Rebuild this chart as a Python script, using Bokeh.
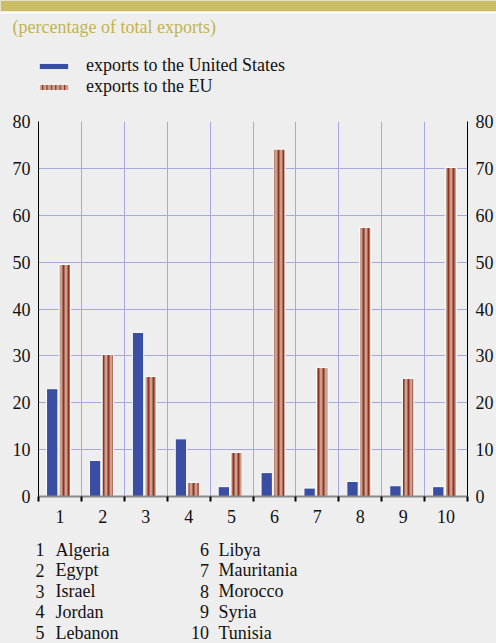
from bokeh.plotting import figure
from bokeh.layouts import column
from bokeh.models import (ColumnDataSource, FixedTicker, LinearAxis, Range1d, Label,
                          BoxAnnotation, Legend, LegendItem)
from bokeh.transform import dodge
from bokeh.embed import file_html
from bokeh.resources import INLINE

# ---------------- data ----------------
categories = ["1", "2", "3", "4", "5", "6", "7", "8", "9", "10"]
countries = ["Algeria", "Egypt", "Israel", "Jordan", "Lebanon",
             "Libya", "Mauritania", "Morocco", "Syria", "Tunisia"]
us_exports = [23.0, 7.7, 35.0, 12.3, 2.1, 5.1, 1.8, 3.2, 2.3, 2.1]
eu_exports = [49.5, 30.3, 25.6, 3.0, 9.4, 74.1, 27.5, 57.4, 25.2, 70.2]
y_ticks = [0, 10, 20, 30, 40, 50, 60, 70, 80]
series_labels = ["exports to the United States", "exports to the EU"]
subtitle = "(percentage of total exports)"

# ---------------- style ----------------
BG = "#eeeeee"
GOLD = "#c9be66"
GOLD_TEXT = "#c2b44c"
BLUE = "#3a4fa3"
TAN = "#c9a190"
STRIPE = "#93301f"
GRID = "#a8a8e0"
FONT = "Liberation Serif"
FS = "18px"
TXT = "#111111"

W = 496
HEAD_H, MAIN_H, KEY_H = 100, 430, 113
FL, FR = 38, 468            # frame left/right (pixels)
FT, FB = 121, 496           # frame top/bottom (page pixels)

bar_style_us = dict(fill_color=BLUE, line_color="white", line_width=1)
bar_style_eu = dict(fill_color=TAN, line_color="white", line_width=1,
                    hatch_pattern="|", hatch_color=STRIPE, hatch_scale=5, hatch_weight=2)

n = len(categories)
centers = [i + 0.5 for i in range(n)]
bounds = list(range(n + 1))
src = ColumnDataSource(dict(x=centers, us=us_exports, eu=eu_exports))


def blank_fig(h):
    f = figure(width=W, height=h, x_range=Range1d(0, 1), y_range=Range1d(0, 1),
               output_backend="svg", toolbar_location=None,
               x_axis_location=None, y_axis_location=None,
               min_border=0, min_border_left=0, min_border_right=0,
               min_border_top=0, min_border_bottom=0, frame_align=False,
               background_fill_color=BG, border_fill_color=BG, outline_line_color=None)
    f.grid.visible = False
    return f


# ---------------- header ----------------
ph = blank_fig(HEAD_H)
ph.add_layout(BoxAnnotation(left=0, right=W, bottom=HEAD_H - 11, top=HEAD_H,
                            left_units="screen", right_units="screen",
                            bottom_units="screen", top_units="screen",
                            fill_color=GOLD, fill_alpha=1, line_color=None))
ph.add_layout(BoxAnnotation(left=0, right=W, bottom=HEAD_H - 13, top=HEAD_H - 11,
                            left_units="screen", right_units="screen",
                            bottom_units="screen", top_units="screen",
                            fill_color="white", fill_alpha=1, line_color=None))
ph.add_layout(Label(x=12, y=HEAD_H - 26, x_units="screen", y_units="screen",
                    text=subtitle, text_font=FONT, text_font_size=FS,
                    text_color=GOLD_TEXT, text_baseline="middle", text_align="left"))
# legend proxies: same data, hidden, only their styles appear in the legend
proxy_us = ph.vbar(x="x", top="us", width=0.1, source=src, visible=False, **bar_style_us)
proxy_eu = ph.vbar(x="x", top="eu", width=0.1, source=src, visible=False,
                   **dict(bar_style_eu, hatch_scale=4.4, hatch_weight=1.2))
legend = Legend(items=[LegendItem(label=series_labels[0], renderers=[proxy_us]),
                       LegendItem(label=series_labels[1], renderers=[proxy_eu])],
                location=(35, HEAD_H - 97), orientation="vertical",
                padding=0, margin=0, spacing=0,
                glyph_width=37, glyph_height=8, label_height=21, label_standoff=14,
                label_text_font=FONT, label_text_font_size=FS, label_text_color=TXT,
                inactive_fill_alpha=0,
                background_fill_alpha=0, border_line_color=None)
ph.add_layout(legend, "center")

# ---------------- main chart ----------------
top0 = HEAD_H
p = figure(width=W, height=MAIN_H, x_range=Range1d(0, 10), y_range=Range1d(0, 80),
           output_backend="svg", toolbar_location=None,
           x_axis_location=None, y_axis_location=None,
           min_border_left=FL, min_border_right=W - FR,
           min_border_top=FT - top0, min_border_bottom=top0 + MAIN_H - FB,
           frame_align=False,
           background_fill_color=BG, border_fill_color=BG,
           outline_line_color=None)

p.xgrid.ticker = FixedTicker(ticks=bounds[1:])
p.ygrid.ticker = FixedTicker(ticks=y_ticks[1:])
p.xgrid.grid_line_color = GRID
p.ygrid.grid_line_color = GRID
p.xgrid.grid_line_width = 1
p.ygrid.grid_line_width = 1


def y_axis():
    return LinearAxis(ticker=FixedTicker(ticks=y_ticks),
                      axis_line_color="black", axis_line_width=1,
                      major_tick_line_color=None, minor_tick_line_color=None,
                      major_tick_out=0, major_tick_in=0,
                      major_label_text_font=FONT, major_label_text_font_size=FS,
                      major_label_text_color=TXT, major_label_standoff=8)


p.add_layout(y_axis(), "left")
p.add_layout(y_axis(), "right")

xb = LinearAxis(ticker=FixedTicker(ticks=centers, minor_ticks=bounds),
                major_label_overrides={c: lab for c, lab in zip(centers, categories)},
                axis_line_color="#8a8a8a", axis_line_width=2,
                major_tick_line_color=None, major_tick_out=0, major_tick_in=0,
                minor_tick_line_color="black", minor_tick_line_width=2,
                minor_tick_out=5, minor_tick_in=0,
                major_label_text_font=FONT, major_label_text_font_size=FS,
                major_label_text_color=TXT, major_label_standoff=8)
p.add_layout(xb, "below")

p.vbar(x=dodge("x", -0.18, range=p.x_range), top="us", width=0.265, source=src, **bar_style_us)
p.vbar(x=dodge("x", 0.115, range=p.x_range), top="eu", width=0.265, source=src, **bar_style_eu)

# ---------------- country key ----------------
pk = blank_fig(KEY_H)
key_top = HEAD_H + MAIN_H
for i, (cat, name) in enumerate(zip(categories, countries)):
    col, row = divmod(i, 5)
    ycen = 549.0 + row * 20.8          # page pixels
    sy = KEY_H - (ycen - key_top)
    num_right = 44 if col == 0 else 208.5
    name_left = 55 if col == 0 else 218
    pk.add_layout(Label(x=num_right, y=sy, x_units="screen", y_units="screen",
                        text=cat, text_font=FONT, text_font_size=FS, text_color=TXT,
                        text_baseline="middle", text_align="right"))
    pk.add_layout(Label(x=name_left, y=sy, x_units="screen", y_units="screen",
                        text=name, text_font=FONT, text_font_size=FS, text_color=TXT,
                        text_baseline="middle", text_align="left"))

layout = column(ph, p, pk, spacing=0)

template = """{% block preamble %}<style>html, body { margin: 0; padding: 0; background: #eeeeee; }</style>{% endblock %}"""

html = file_html(layout, INLINE, title="exports", template=template)
open("out.html", "w").write(html)
